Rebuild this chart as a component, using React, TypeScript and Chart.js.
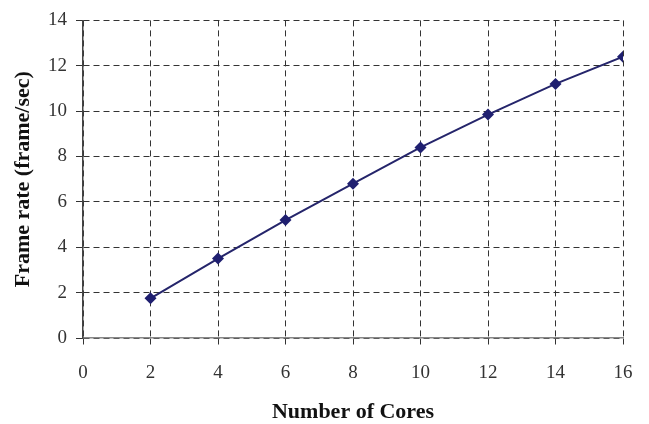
import React, { useEffect, useRef } from "react";
import { Chart, registerables } from "chart.js";

Chart.register(...registerables);

const cores = [2, 4, 6, 8, 10, 12, 14, 16];
const frameRate = [1.75, 3.5, 5.2, 6.8, 8.4, 9.85, 11.2, 12.4];
const xTitle = "Number of Cores";
const yTitle = "Frame rate (frame/sec)";

export default function App() {
  const ref = useRef<HTMLCanvasElement | null>(null);
  useEffect(() => {
    if (!ref.current) return;
    const font = "'Liberation Serif', 'Times New Roman', serif";
    const chart = new Chart(ref.current, {
      type: "line",
      data: {
        datasets: [
          {
            data: cores.map((c, i) => ({ x: c, y: frameRate[i] })),
            borderColor: "#25256b",
            backgroundColor: "#1f1f70",
            borderWidth: 2,
            pointStyle: "rectRot",
            pointRadius: 6,
            pointBorderWidth: 0,
            tension: 0,
          },
        ],
      },
      options: {
        animation: false,
        responsive: false,
        layout: { padding: { top: 19, right: 26, left: 0, bottom: 0 } },
        plugins: { legend: { display: false }, tooltip: { enabled: false } },
        scales: {
          x: {
            type: "linear",
            min: 0,
            max: 16,
            ticks: { stepSize: 2, color: "#333", font: { family: font, size: 19 }, padding: 16 },
            grid: { color: "#333", lineWidth: 1, tickLength: 8, tickBorderDash: [6, 4], tickColor: "#333" },
            border: { display: true, color: "#888", width: 1.5, dash: [6, 4] },
            title: {
              display: true,
              text: xTitle,
              color: "#111",
              font: { family: font, size: 22, weight: "bold" },
              padding: { top: 0, bottom: -2 },
            },
            afterFit: (s: any) => {
              s.height = 86;
            },
          },
          y: {
            min: 0,
            max: 14,
            ticks: { stepSize: 2, color: "#333", font: { family: font, size: 19 }, padding: 9 },
            grid: { color: "#333", lineWidth: 1, tickLength: 7, tickBorderDash: [6, 4], tickColor: "#333" },
            border: { display: true, color: "#444", width: 1.5, dash: [6, 4] },
            title: {
              display: true,
              text: yTitle,
              color: "#111",
              font: { family: font, size: 22, weight: "bold" },
              padding: { top: 10, bottom: 0 },
            },
            afterFit: (s: any) => {
              s.width = 83;
            },
          },
        },
      },
    });
    return () => chart.destroy();
  }, []);
  return (
    <div style={{ position: "fixed", left: 0, top: 0, width: 649, height: 424, background: "#fff" }}>
      <canvas ref={ref} width={649} height={424} />
    </div>
  );
}
